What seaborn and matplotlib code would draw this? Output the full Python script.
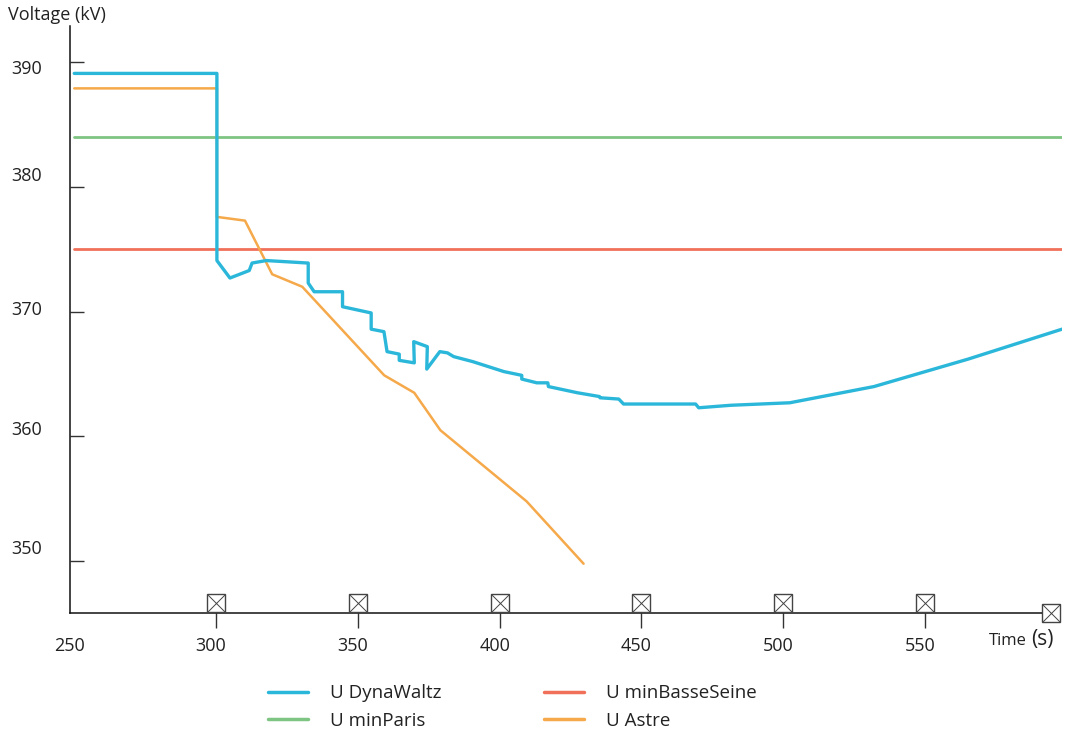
import matplotlib
matplotlib.use("Agg")
import matplotlib.pyplot as plt
import matplotlib.transforms as mtransforms
import matplotlib.colors as mcolors
import seaborn as sns
import pandas as pd

# ---- data ----
t_dyna = [250, 300.3, 300.3, 304.9, 311.7, 312.7, 317.7, 332.5, 332.5, 334.6, 344.6, 344.6,
          354.7, 354.7, 359.2, 360.3, 364.6, 364.6, 369.9, 369.7, 374.5, 374.3, 378.9, 381.6,
          383.8, 390.5, 401.5, 407.8, 407.8, 413.1, 417.0, 417.2, 427.5, 435.2, 435.4, 442.0,
          443.7, 469.1, 470.2, 481.5, 502.3, 532.0, 565.2, 598.3]
u_dyna = [389.1, 389.1, 374.1, 372.7, 373.3, 373.9, 374.1, 373.9, 372.3, 371.6, 371.6, 370.4,
          369.9, 368.6, 368.4, 366.8, 366.6, 366.1, 365.9, 367.6, 367.2, 365.4, 366.8, 366.7,
          366.4, 366.0, 365.2, 364.9, 364.6, 364.3, 364.3, 364.0, 363.5, 363.2, 363.1, 363.0,
          362.6, 362.6, 362.3, 362.5, 362.7, 364.0, 366.2, 368.6]

t_paris = [250, 600]
u_paris = [384.0, 384.0]

t_basse = [250, 600]
u_basse = [375.0, 375.0]

t_astre = [250, 300.3, 300.3, 310.2, 319.8, 330.4, 359.3, 369.9, 379.1, 409.5, 429.6]
u_astre = [387.9, 387.9, 377.6, 377.3, 373.0, 372.0, 364.9, 363.5, 360.5, 354.8, 349.8]

series_names = ["U DynaWaltz", "U minParis", "U minBasseSeine", "U Astre"]
series_colors = ["#2bb7da", "#7ec482", "#f0705a", "#f5a94a"]
series_widths = [2.4, 2.0, 2.0, 1.8]

x_ticks = [250, 300, 350, 400, 450, 500, 550]
y_ticks = [350, 360, 370, 380, 390]
event_times = [300, 350, 400, 450, 500, 550]
x_label = "Time"
x_unit = "(s)"
y_label = "Voltage (kV)"

# ---- build frame ----
frames = []
for name, t, u in zip(series_names,
                      [t_dyna, t_paris, t_basse, t_astre],
                      [u_dyna, u_paris, u_basse, u_astre]):
    frames.append(pd.DataFrame({"time": t, "voltage": u, "series": name}))
df = pd.concat(frames, ignore_index=True)

sns.set_theme(style="white")
FONT = ["Open Sans", "DejaVu Sans"]
plt.rcParams["font.family"] = FONT

fig = plt.figure(figsize=(10.69, 7.33), dpi=100)
ax = fig.add_axes([70 / 1069, 1 - 613 / 733, (1062 - 70) / 1069, (613 - 26) / 733])

palette = dict(zip(series_names, series_colors))
draw_order = series_names[1:] + series_names[:1]
sns.lineplot(data=df, x="time", y="voltage", hue="series", hue_order=draw_order,
             palette=palette, estimator=None, sort=False,
             linewidth=2.0, ax=ax, legend=True)

rgb_to_style = {mcolors.to_rgb(c): (w, z) for c, w, z in
                zip(series_colors, series_widths, [3.5, 2.2, 2.3, 2.4])}
for ln in ax.lines:
    key = mcolors.to_rgb(ln.get_color())
    if key in rgb_to_style:
        w, z = rgb_to_style[key]
        ln.set_linewidth(w)
        ln.set_zorder(z)

XMIN, XMAX = 248.5, 598.3
YMIN, YMAX = 345.85, 392.9
ax.set_xlim(XMIN, XMAX)
ax.set_ylim(YMIN, YMAX)

# spines
for s in ["top", "right"]:
    ax.spines[s].set_visible(False)
for s in ["left", "bottom"]:
    ax.spines[s].set_color("#111111")
    ax.spines[s].set_linewidth(1.1)
ax.spines["bottom"].set_bounds(XMIN, 591.3)

# ticks
ax.set_xticks(x_ticks)
ax.set_xticklabels([str(v) for v in x_ticks])
ax.set_yticks(y_ticks)
ax.set_yticklabels([str(v) for v in y_ticks])
ax.tick_params(axis="x", direction="out", length=10.5, width=1.0, color="#333333",
               labelsize=13, labelcolor="#222222", pad=7, bottom=True)
ax.tick_params(axis="y", direction="in", length=10, width=1.0, color="#333333",
               labelsize=13, labelcolor="#222222", pad=20, left=True)
ax.xaxis.get_major_ticks()[0].tick1line.set_visible(False)

# label offsets as in the reference
for lab in ax.get_xticklabels():
    lab.set_transform(lab.get_transform() + mtransforms.ScaledTranslation(-5 / 100, 0, fig.dpi_scale_trans))
y_off_px = {350: -14, 360: -8, 370: -4, 380: -13, 390: 5}
for lab, v in zip(ax.get_yticklabels(), y_ticks):
    lab.set_transform(lab.get_transform() + mtransforms.ScaledTranslation(0, -y_off_px[v] / 100, fig.dpi_scale_trans))

ax.set_xlabel("")
ax.set_ylabel("")

# event markers (box with cross) on the x axis
box_h = 19 / 12.47
for xs, yc, ms in [(event_times, YMIN + box_h / 2, 13.5), ([594.4], YMIN, 13)]:
    ax.plot(xs, [yc] * len(xs), linestyle="none", marker="s", markersize=ms,
            markerfacecolor="white", markeredgecolor="#444444", markeredgewidth=1.0,
            clip_on=False, zorder=5)
    ax.plot(xs, [yc] * len(xs), linestyle="none", marker="x", markersize=ms,
            markeredgecolor="#444444", markeredgewidth=0.7, clip_on=False, zorder=6)
ax.plot([591.3, 592.0], [YMIN, YMIN], color="#888888", lw=1.1, clip_on=False)

# axis titles
fig.text(8 / 1069, 1 - 15 / 733, y_label, fontsize=13, color="#222222",
         ha="left", va="center", family=FONT)
fig.text(1027 / 1069, 1 - 641 / 733, x_label, fontsize=12, color="#222222",
         ha="right", va="center", family=FONT)
fig.text(1031 / 1069, 1 - 640 / 733, x_unit, fontsize=15, color="#222222",
         ha="left", va="center", family=FONT)

# legend (original order)
handles, labels = ax.get_legend_handles_labels()
if ax.get_legend() is not None:
    ax.get_legend().remove()
hmap = dict(zip(labels, handles))
leg = fig.legend([hmap[n] for n in series_names], series_names, loc="center left",
                 bbox_to_anchor=(251 / 1069, 1 - 707 / 733),
                 ncol=2, frameon=False, fontsize=13.5, handlelength=2.13, handletextpad=1.17,
                 columnspacing=5.5, labelspacing=0.5)
for line in leg.get_lines():
    line.set_linewidth(2.5)
for txt in leg.get_texts():
    txt.set_color("#222222")

fig.savefig("out.png", dpi=100)
